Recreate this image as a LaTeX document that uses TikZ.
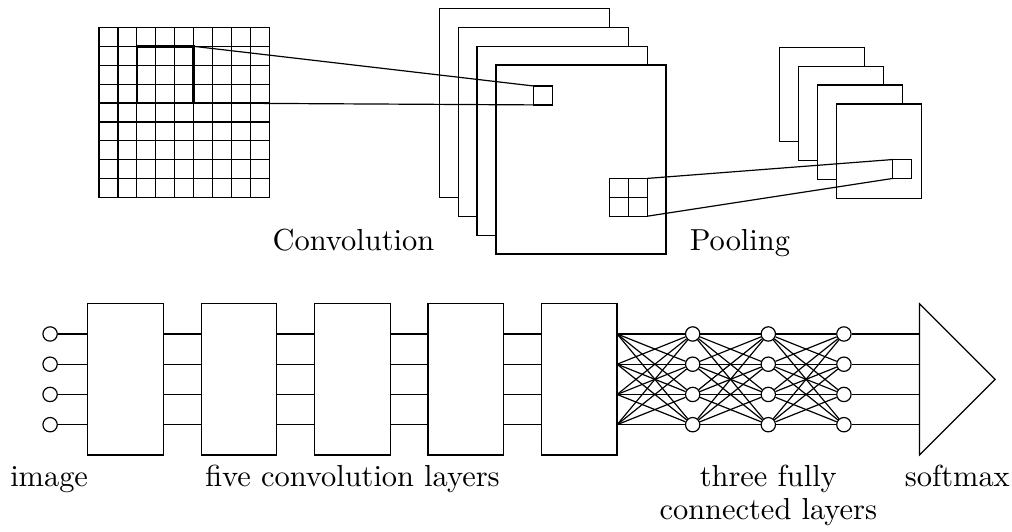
\documentclass[tikz,border=0pt]{standalone}
\usepackage{fontspec}
\setmainfont{lmroman10-regular.otf}
\usetikzlibrary{positioning}

\begin{document}
\begin{tikzpicture}[
	x=0.5cm, y=-0.5cm, line width=0.9pt,
	label/.style={font=\fontsize{22.9}{25}\selectfont, inner sep=0pt},
	convbox/.style={rectangle, draw, minimum width=2cm, minimum height=4cm, inner sep=0pt, outer sep=0pt},
	unit/.style={circle, draw, fill=white, minimum size=0.38cm, inner sep=0pt},
	map/.style={draw, fill=white},
	node distance=1cm
]
	\useasboundingbox (0,0) rectangle (53.545,28.095);

	% Input image and receptive field
	\begin{scope}[shift={(5.24,1.45)}]
		\foreach \k in {0,...,9} {
			\draw (\k,0) -- (\k,9);
			\draw (0,\k) -- (9,\k);
		}
		\draw[line width=1.8pt] (2,1) rectangle (5,4);
		\coordinate (patchNE) at (5,1);
		\coordinate (patchSE) at (5,4);
	\end{scope}

	% Convolution feature maps
	\foreach \i in {0,...,3}
		\draw[map] (23.24+\i,0.44+\i) rectangle ++(9,10);
	\draw (28.24,4.55) coordinate (kernNW) rectangle ++(1,1);
	\coordinate (kernSW) at (28.24,5.55);
	\draw (32.24,9.44) rectangle (34.24,11.44);
	\draw (33.24,9.44) -- (33.24,11.44);
	\draw (32.24,10.44) -- (34.24,10.44);
	\coordinate (winNE) at (34.24,9.44);
	\coordinate (winSE) at (34.24,11.44);

	% Pooling feature maps
	\foreach \i in {0,...,3}
		\draw[map] (41.24+\i,2.5+\i) rectangle ++(4.5,5);
	\draw (47.24,8.44) coordinate (poolNW) rectangle ++(1,1);
	\coordinate (poolSW) at (47.24,9.44);

	\draw (patchNE) -- (kernNW);
	\draw (patchSE) -- (kernSW);
	\draw (winNE) -- (poolNW);
	\draw (winSE) -- (poolSW);

	\node[label, anchor=base] (convlbl) at (18.7,13.23) {Convolution};
	\node[label, anchor=base] (poollbl) at (39.15,13.23) {Pooling};

	% Network
	\node[convbox] (conv1) at (6.65,20.07) {};
	\node[convbox, right=of conv1] (conv2) {};
	\node[convbox, right=of conv2] (conv3) {};
	\node[convbox, right=of conv3] (conv4) {};
	\node[convbox, right=of conv4] (conv5) {};

	\foreach \j in {1,...,4} {
		\node[unit] (in\j) at (2.65,{16.07+1.6*\j}) {};
		\node[unit] (fa\j) at (36.65,{16.07+1.6*\j}) {};
		\node[unit] (fb\j) at (40.65,{16.07+1.6*\j}) {};
		\node[unit] (fc\j) at (44.65,{16.07+1.6*\j}) {};
	}

	% Softmax
	\coordinate (smtop) at (48.65,16.07);
	\coordinate (smtip) at (52.65,20.07);
	\coordinate (smbot) at (48.65,24.07);
	\draw (smtop) -- (smtip) -- (smbot) -- cycle;

	% Connections
	\foreach \j in {1,...,4} {
		\draw (in\j) -- (conv1.west |- in\j);
		\foreach \a/\b in {conv1/conv2, conv2/conv3, conv3/conv4, conv4/conv5}
			\draw (\a.east |- in\j) -- (\b.west |- in\j);
		\draw (fc\j) -- (smtop |- fc\j);
		\foreach \k in {1,...,4} {
			\draw (conv5.east |- in\j) -- (fa\k);
			\draw (fa\j) -- (fb\k);
			\draw (fb\j) -- (fc\k);
		}
	}

	% Labels
	\node[label, anchor=base] (imglbl) at (2.6,25.75) {image};
	\node[label, anchor=base] (convslbl) at (conv3 |- imglbl.base) {five convolution layers};
	\node[label, anchor=base, align=center, yshift=-25pt] (fclbl) at (fb1 |- imglbl.base) {three fully\\connected layers};
	\node[label, anchor=base] (smlbl) at (50.65,25.75) {softmax};
\end{tikzpicture}
\end{document}
